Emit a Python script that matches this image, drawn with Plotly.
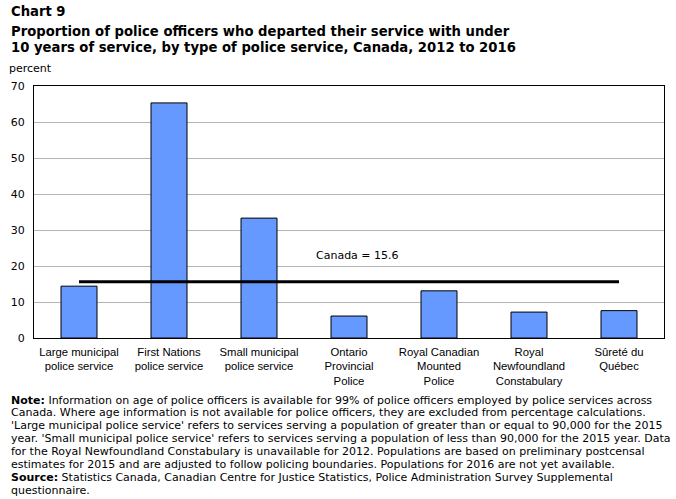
import plotly.graph_objects as go

categories = [
    "Large municipal<br>police service",
    "First Nations<br>police service",
    "Small municipal<br>police service",
    "Ontario<br>Provincial<br>Police",
    "Royal Canadian<br>Mounted<br>Police",
    "Royal<br>Newfoundland<br>Constabulary",
    "Sûreté du<br>Québec",
]
values = [14.4, 65.3, 33.3, 6.1, 13.1, 7.2, 7.6]
canada_value = 15.6
y_ticks = [0, 10, 20, 30, 40, 50, 60, 70]

title_lines = [
    "<b>Chart 9</b>",
    "<b>Proportion of police officers who departed their service with under</b>",
    "<b>10 years of service, by type of police service, Canada, 2012 to 2016</b>",
]
note_lines = [
    "<b>Note:</b> Information on age of police officers is available for 99% of police officers employed by police services across",
    "Canada. Where age information is not available for police officers, they are excluded from percentage calculations.",
    "'Large municipal police service' refers to services serving a population of greater than or equal to 90,000 for the 2015",
    "year. 'Small municipal police service' refers to services serving a population of less than 90,000 for the 2015 year. Data",
    "for the Royal Newfoundland Constabulary is unavailable for 2012. Populations are based on preliminary postcensal",
    "estimates for 2015 and are adjusted to follow policing boundaries. Populations for 2016 are not yet available.",
    "<b>Source:</b> Statistics Canada, Canadian Centre for Justice Statistics, Police Administration Survey Supplemental",
    "questionnaire.",
]

W, H = 676, 499
ML, MR, MT, MB = 32, 11, 86, 161
plot_w = W - ML - MR
plot_h = H - MT - MB

def px(pix):
    return (pix - ML) / plot_w

def py(pix):
    return (H - MB - pix) / plot_h

fig = go.Figure()
fig.add_trace(go.Bar(
    x=categories, y=values, width=0.4,
    marker=dict(color="#6699FF", line=dict(color="black", width=1)),
    hoverinfo="skip",
))
fig.add_trace(go.Scatter(
    x=[categories[0], categories[-1]], y=[canada_value, canada_value],
    mode="lines", line=dict(color="black", width=3), hoverinfo="skip",
))

ann = []
title_y = [12, 31, 47]
for t, yy in zip(title_lines, title_y):
    ann.append(dict(text=t, xref="paper", yref="paper", x=px(7), y=py(yy),
                    xanchor="left", yanchor="middle", showarrow=False,
                    font=dict(family="DejaVu Sans", size=13.2, color="black")))
ann.append(dict(text="percent", xref="paper", yref="paper", x=px(5), y=py(68),
                xanchor="left", yanchor="middle", showarrow=False,
                font=dict(family="DejaVu Sans", size=11, color="black")))
ann.append(dict(text="Canada = 15.6", xref="x", yref="y", x=3.09, y=23.0,
                xanchor="center", yanchor="middle", showarrow=False,
                font=dict(family="DejaVu Sans", size=11, color="black")))
for i, t in enumerate(note_lines):
    ann.append(dict(text=t, xref="paper", yref="paper", x=px(7),
                    y=py(400 + i * 12.86), xanchor="left", yanchor="middle", showarrow=False,
                    font=dict(family="DejaVu Sans", size=11, color="black")))

fig.update_layout(
    width=W, height=H, margin=dict(l=ML, r=MR, t=MT, b=MB),
    paper_bgcolor="white", plot_bgcolor="white", showlegend=False,
    annotations=ann,
    xaxis=dict(showgrid=False, showline=True, linecolor="black", linewidth=1, mirror=True,
               ticks="", tickfont=dict(family="Liberation Sans", size=11.3, color="black"),
               tickangle=0, fixedrange=True, ticklabelstandoff=3),
    yaxis=dict(range=[0, 70], tickvals=y_ticks, showgrid=True, gridcolor="#b4b4b4", gridwidth=1,
               showline=True, linecolor="black", linewidth=1, mirror=True, ticks="",
               zeroline=False, tickfont=dict(family="DejaVu Sans", size=11, color="black"),
               fixedrange=True, ticklabelstandoff=6),
    bargap=0.6,
)
fig.write_html("out.html")
